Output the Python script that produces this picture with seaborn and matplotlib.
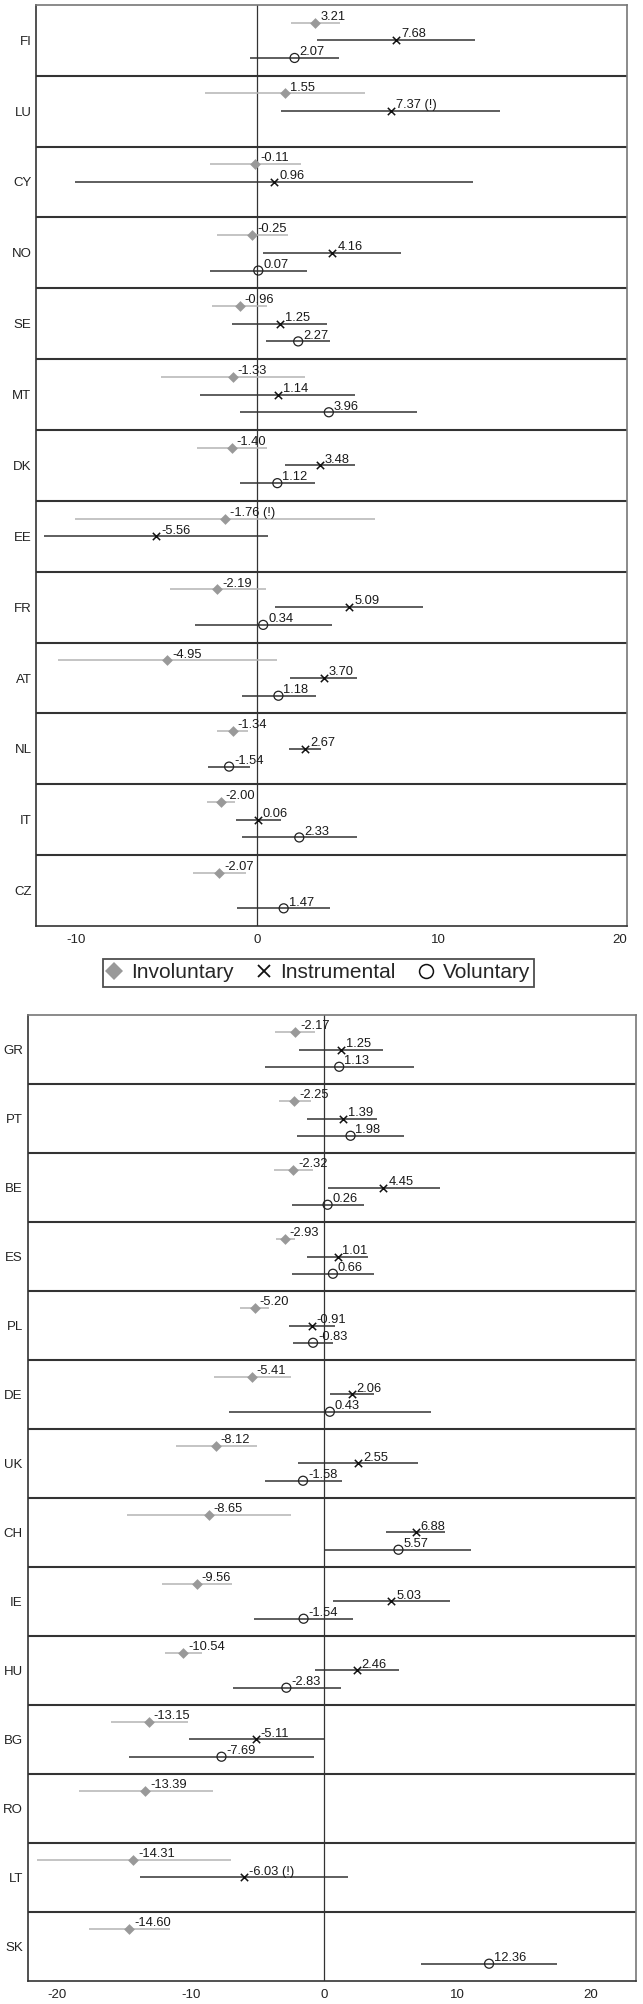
import numpy as np
import pandas as pd
import matplotlib
matplotlib.use("Agg")
import matplotlib.pyplot as plt
import seaborn as sns
from matplotlib.lines import Line2D

nan = np.nan

# top panel
top_countries = ["FI", "LU", "CY", "NO", "SE", "MT", "DK", "EE", "FR", "AT", "NL", "IT", "CZ"]
inv_est_top = [3.21, 1.55, -0.11, -0.25, -0.96, -1.33, -1.40, -1.76, -2.19, -4.95, -1.34, -2.00, -2.07]
inv_lo_top = [1.86, -2.85, -2.62, -2.22, -2.47, -5.29, -3.33, -10.02, -4.82, -11.0, -2.19, -2.74, -3.53]
inv_hi_top = [4.57, 5.93, 2.42, 1.72, 0.57, 2.65, 0.57, 6.52, 0.48, 1.09, -0.50, -1.24, -0.63]
ins_est_top = [7.68, 7.37, 0.96, 4.16, 1.25, 1.14, 3.48, -5.56, 5.09, 3.70, 2.67, 0.06, nan]
ins_lo_top = [3.33, 1.33, -10.02, 0.32, -1.36, -3.14, 1.54, -11.74, 1.00, 1.83, 1.79, -1.15, nan]
ins_hi_top = [12.04, 13.39, 11.92, 7.92, 3.87, 5.41, 5.41, 0.61, 9.16, 5.54, 3.53, 1.31, nan]
vol_est_top = [2.07, nan, nan, 0.07, 2.27, 3.96, 1.12, nan, 0.34, 1.18, -1.54, 2.33, 1.47]
vol_lo_top = [-0.36, nan, nan, -2.62, 0.50, -0.93, -0.95, nan, -3.42, -0.84, -2.69, -0.84, -1.11]
vol_hi_top = [4.52, nan, nan, 2.74, 4.03, 8.80, 3.17, nan, 4.14, 3.24, -0.38, 5.54, 4.05]
flag_inv_top = ["EE"]
flag_ins_top = ["LU"]

# bottom panel
bot_countries = ["GR", "PT", "BE", "ES", "PL", "DE", "UK", "CH", "IE", "HU", "BG", "RO", "LT", "SK"]
inv_est_bot = [-2.17, -2.25, -2.32, -2.93, -5.20, -5.41, -8.12, -8.65, -9.56, -10.54, -13.15, -13.39, -14.31, -14.60]
inv_lo_bot = [-3.66, -3.41, -3.78, -3.63, -6.27, -8.23, -11.12, -14.75, -12.14, -11.95, -16.0, -18.37, -21.54, -17.63]
inv_hi_bot = [-0.65, -0.95, -0.80, -2.18, -4.12, -2.49, -5.04, -2.46, -6.88, -9.12, -10.23, -8.29, -7.00, -11.52]
ins_est_bot = [1.25, 1.39, 4.45, 1.01, -0.91, 2.06, 2.55, 6.88, 5.03, 2.46, -5.11, nan, -6.03, nan]
ins_lo_bot = [-1.87, -1.26, 0.28, -1.26, -2.64, 0.46, -1.94, 4.64, 0.65, -0.65, -10.11, nan, -13.82, nan]
ins_hi_bot = [4.39, 3.96, 8.66, 3.32, 0.83, 3.72, 7.04, 9.09, 9.43, 5.59, 0.0, nan, 1.81, nan]
vol_est_bot = [1.13, 1.98, 0.26, 0.66, -0.83, 0.43, -1.58, 5.57, -1.54, -2.83, -7.69, nan, nan, 12.36]
vol_lo_bot = [-4.42, -2.03, -2.37, -2.37, -2.30, -7.16, -4.42, 0.03, -5.22, -6.82, -14.59, nan, nan, 7.28]
vol_hi_bot = [6.73, 6.02, 2.98, 3.72, 0.65, 8.02, 1.32, 11.03, 2.18, 1.23, -0.74, nan, nan, 17.48]
flag_inv_bot = []
flag_ins_bot = ["LT"]

types = ["Involuntary", "Instrumental", "Voluntary"]
offsets = {"Involuntary": -0.25, "Instrumental": 0.0, "Voluntary": 0.25}


def build_frame(countries, series, flags):
    rows = []
    for t, (est, lo, hi) in zip(types, series):
        for i, c in enumerate(countries):
            if np.isnan(est[i]):
                continue
            lab = f"{est[i]:.2f}"
            if c in flags.get(t, []):
                lab += " (!)"
            rows.append({"country": c, "type": t, "est": est[i], "lo": lo[i], "hi": hi[i],
                         "y": i + offsets[t], "label": lab})
    return pd.DataFrame(rows)


def draw_panel(ax, df, countries, xlim, xticks):
    n = len(countries)
    for t in types:
        d = df[df["type"] == t]
        line_col = "#b4b4b4" if t == "Involuntary" else "#333333"
        ax.hlines(d["y"], d["lo"], d["hi"], color=line_col, linewidth=1.1, zorder=2)
    ax.axvline(0, color="#333333", linewidth=0.9, zorder=1)

    d = df[df["type"] == "Involuntary"]
    sns.scatterplot(data=d, x="est", y="y", ax=ax, marker="D", s=30, color="#999999",
                    edgecolor="#999999", linewidth=0, zorder=3, legend=False)
    d = df[df["type"] == "Instrumental"]
    sns.scatterplot(data=d, x="est", y="y", ax=ax, marker="x", s=28, color="#111111",
                    linewidth=1.1, zorder=3, legend=False)
    d = df[df["type"] == "Voluntary"]
    sc = sns.scatterplot(data=d, x="est", y="y", ax=ax, marker="o", s=42, facecolor="none",
                         edgecolor="#222222", linewidth=0.9, zorder=3, legend=False)
    sc.collections[-1].set_facecolor("none")

    for _, r in df.iterrows():
        ax.annotate(r["label"], (r["est"], r["y"]), xytext=(3.5, 2.0), textcoords="offset points",
                    ha="left", va="baseline", fontsize=9.3, color="#1a1a1a", zorder=4)

    for i in range(n - 1):
        ax.axhline(i + 0.5, color="#333333", linewidth=1.5, zorder=1)

    ax.set_ylim(n - 0.5, -0.5)
    ax.set_xlim(*xlim)
    ax.set_yticks(range(n))
    ax.set_yticklabels(countries)
    ax.set_xticks(xticks)
    ax.set_xticklabels([str(v) for v in xticks])
    ax.set_xlabel("")
    ax.set_ylabel("")
    ax.tick_params(axis="y", length=2, width=0.8, labelsize=9.5, pad=1.5, colors="#222222")
    ax.tick_params(axis="x", length=4, width=0.8, labelsize=9.5, pad=2, colors="#222222")
    for side in ["left", "bottom"]:
        ax.spines[side].set_color("#333333")
        ax.spines[side].set_linewidth(1.2)
    for side in ["top", "right"]:
        ax.spines[side].set_color("#777777")
        ax.spines[side].set_linewidth(1.2)
        ax.spines[side].set_visible(True)


sns.set_style("white")
plt.rcParams["font.family"] = ["Liberation Sans", "DejaVu Sans"]

fig = plt.figure(figsize=(6.43, 20.04), dpi=100)
ax_top = fig.add_axes([0.0565, 0.5379, 0.9191, 0.4597])
ax_bot = fig.add_axes([0.0431, 0.0115, 0.9460, 0.4820])

df_top = build_frame(top_countries,
                     [(inv_est_top, inv_lo_top, inv_hi_top),
                      (ins_est_top, ins_lo_top, ins_hi_top),
                      (vol_est_top, vol_lo_top, vol_hi_top)],
                     {"Involuntary": flag_inv_top, "Instrumental": flag_ins_top})
df_bot = build_frame(bot_countries,
                     [(inv_est_bot, inv_lo_bot, inv_hi_bot),
                      (ins_est_bot, ins_lo_bot, ins_hi_bot),
                      (vol_est_bot, vol_lo_bot, vol_hi_bot)],
                     {"Involuntary": flag_inv_bot, "Instrumental": flag_ins_bot})

draw_panel(ax_top, df_top, top_countries, (-12.17, 20.42), [-10, 0, 10, 20])
draw_panel(ax_bot, df_bot, bot_countries, (-22.21, 23.37), [-20, -10, 0, 10, 20])

handles = [
    Line2D([], [], linestyle="none", marker="D", markersize=9, color="#999999", markeredgewidth=0),
    Line2D([], [], linestyle="none", marker="x", markersize=9, color="#111111", markeredgewidth=1.3),
    Line2D([], [], linestyle="none", marker="o", markersize=10, markerfacecolor="none",
           markeredgecolor="#111111", markeredgewidth=1.1),
]
leg = fig.legend(handles, types, loc="center", bbox_to_anchor=(0.4953, 0.5145), ncol=3,
                 frameon=True, fancybox=False, fontsize=15, handlelength=0.7, handletextpad=0.45,
                 columnspacing=1.1, borderpad=0.2, borderaxespad=0)
leg.get_frame().set_edgecolor("#222222")
leg.get_frame().set_linewidth(1.3)

fig.savefig("out.png", dpi=100)
